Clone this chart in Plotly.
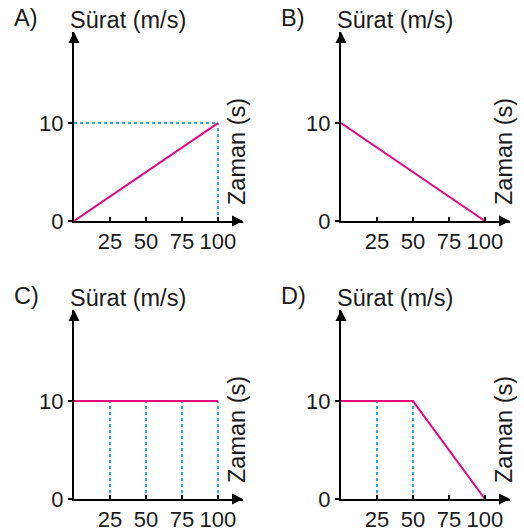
import plotly.graph_objects as go

# ---- data ----
panel_labels = ["A)", "B)", "C)", "D)"]
y_title = "Sürat (m/s)"
x_title = "Zaman (s)"
x_ticks = [25, 50, 75, 100]
x_tick_text = ["25", "50", "75", "100"]
y_ticks = [0, 10]
y_tick_text = ["0", "10"]

a_time = [0, 100]
a_speed = [0, 10]
b_time = [0, 100]
b_speed = [10, 0]
c_time = [0, 100]
c_speed = [10, 10]
d_time = [0, 50, 100]
d_speed = [10, 10, 0]

# dotted guide lines (time, speed) pairs per panel
a_guides = [([0, 100], [10, 10]), ([100, 100], [0, 10])]
b_guides = []
c_guides = [([25, 25], [0, 10]), ([50, 50], [0, 10]), ([75, 75], [0, 10]), ([100, 100], [0, 10])]
d_guides = [([25, 25], [0, 10]), ([50, 50], [0, 10])]

# ---- layout geometry ----
W, H = 524, 531
X_MAX = 117.4
Y_MAX = 19.3
PINK = "#E6087F"
BLUE = "#25A9E0"
TXT = "#1a1a1a"
FONT = "Liberation Sans, Arial, sans-serif"
FS = 22
FS_T = 23.5

panels = [
    dict(time=a_time, speed=a_speed, guides=a_guides, xpx=(74, 243), ypx=(32, 221)),
    dict(time=b_time, speed=b_speed, guides=b_guides, xpx=(341, 510), ypx=(32, 221)),
    dict(time=c_time, speed=c_speed, guides=c_guides, xpx=(74, 243), ypx=(310, 499)),
    dict(time=d_time, speed=d_speed, guides=d_guides, xpx=(341, 510), ypx=(310, 499)),
]

fig = go.Figure()
layout = dict(
    width=W, height=H, margin=dict(l=0, r=0, t=0, b=0, autoexpand=False),
    paper_bgcolor="white", plot_bgcolor="white", showlegend=False,
    font=dict(family=FONT, size=FS, color=TXT),
)
annotations = []

def px2x(px):
    return px / W

def px2y(py):
    return 1 - py / H

for i, p in enumerate(panels):
    n = "" if i == 0 else str(i + 1)
    xr, yr = "x" + n, "y" + n
    for gx, gy in p["guides"]:
        fig.add_trace(go.Scatter(x=gx, y=gy, mode="lines", xaxis=xr, yaxis=yr,
                                 line=dict(color=BLUE, width=2, dash="dot"), hoverinfo="skip"))
    fig.add_trace(go.Scatter(x=p["time"], y=p["speed"], mode="lines", xaxis=xr, yaxis=yr,
                             line=dict(color=PINK, width=2), hoverinfo="skip"))
    # arrow heads at axis ends
    fig.add_trace(go.Scatter(x=[X_MAX], y=[0], mode="markers", xaxis=xr, yaxis=yr, cliponaxis=False,
                             marker=dict(symbol="arrow-right", size=11, color="black"), hoverinfo="skip"))
    fig.add_trace(go.Scatter(x=[0], y=[Y_MAX], mode="markers", xaxis=xr, yaxis=yr, cliponaxis=False,
                             marker=dict(symbol="arrow-up", size=11, color="black"), hoverinfo="skip"))

    x0, x1 = p["xpx"]
    y0, y1 = p["ypx"]
    layout["xaxis" + n] = dict(
        domain=[px2x(x0), px2x(x1)], range=[0, X_MAX], anchor=yr, automargin=False,
        showgrid=False, zeroline=False, showline=True, linecolor="black", linewidth=2,
        tickmode="array", tickvals=x_ticks, ticktext=x_tick_text,
        ticks="inside", ticklen=4, tickwidth=2, tickcolor="black",
        tickfont=dict(family=FONT, size=FS, color=TXT), fixedrange=True,
    )
    layout["yaxis" + n] = dict(
        domain=[px2y(y1), px2y(y0)], range=[0, Y_MAX], anchor=xr, automargin=False,
        showgrid=False, zeroline=False, showline=True, linecolor="black", linewidth=2,
        tickmode="array", tickvals=y_ticks, ticktext=y_tick_text,
        ticks="outside", ticklen=4, tickwidth=2, tickcolor="black",
        tickfont=dict(family=FONT, size=FS, color=TXT), fixedrange=True,
    )
    # panel letter
    annotations.append(dict(text=panel_labels[i], xref="paper", yref="paper",
                            x=px2x(x0 - 62), y=px2y(y0 - 14), xanchor="left", yanchor="middle",
                            showarrow=False, font=dict(family=FONT, size=FS_T, color=TXT)))
    # y title
    annotations.append(dict(text=y_title, xref="paper", yref="paper",
                            x=px2x(x0 - 6), y=px2y(y0 - 12), xanchor="left", yanchor="middle",
                            showarrow=False, font=dict(family=FONT, size=FS_T, color=TXT)))
    # x title (rotated)
    annotations.append(dict(text=x_title, xref="paper", yref="paper",
                            x=px2x(x1 - 6), y=px2y(y0 + 120), xanchor="center", yanchor="middle",
                            textangle=-90, showarrow=False,
                            font=dict(family=FONT, size=FS_T, color=TXT)))

layout["annotations"] = annotations
fig.update_layout(**layout)
fig.write_html("out.html", config={"displayModeBar": False},
               post_script="document.body.style.margin='0';document.body.style.overflow='hidden';")
